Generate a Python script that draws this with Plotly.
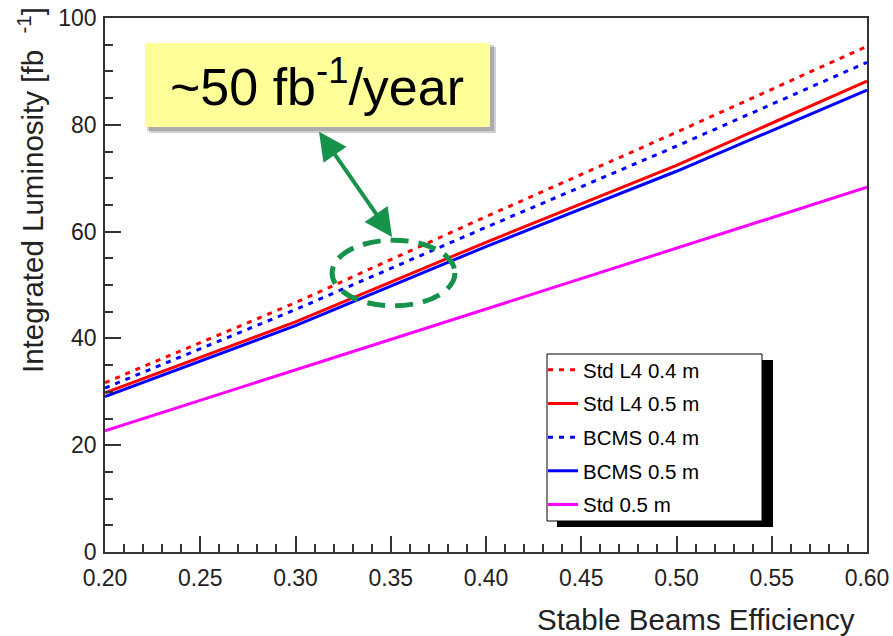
import plotly.graph_objects as go

# ---- data ----
efficiency = [0.20, 0.30, 0.40, 0.50, 0.60]
std_l4_04 = [31.7, 46.7, 62.8, 78.6, 94.7]
std_l4_05 = [29.8, 43.1, 58.0, 72.4, 88.2]
bcms_04 = [30.7, 45.4, 60.8, 76.0, 91.7]
bcms_05 = [29.1, 42.4, 57.2, 71.3, 86.5]
std_05 = [22.7, 34.1, 45.5, 56.9, 68.3]

series_names = ["Std L4 0.4 m", "Std L4 0.5 m", "BCMS 0.4 m", "BCMS 0.5 m", "Std 0.5 m"]
series_values = [std_l4_04, std_l4_05, bcms_04, bcms_05, std_05]
series_colors = ["#FF0000", "#FF0000", "#0000FF", "#0000FF", "#FF00FF"]
series_dash = ["5px,6px", "solid", "5px,6px", "solid", "solid"]

x_ticks = [0.20, 0.25, 0.30, 0.35, 0.40, 0.45, 0.50, 0.55, 0.60]
y_ticks = [0, 20, 40, 60, 80, 100]

# ---- layout geometry (page pixels) ----
PX0, PX1, PY0, PY1 = 105, 867, 18, 552   # plot area
W, H = 893, 636
L, T = PX0, PY0
R = W - PX1
B = H - PY1
PW, PH = PX1 - PX0, PY1 - PY0


def xp(px):
    return (px - PX0) / PW


def yp(py):
    return (PY1 - py) / PH


FONT = "Liberation Sans, Arial, sans-serif"

fig = go.Figure()
for i, (name, vals, col, dash) in enumerate(zip(series_names, series_values, series_colors, series_dash)):
    fig.add_trace(go.Scatter(
        x=efficiency, y=vals, mode="lines", name=name,
        line=dict(color=col, width=3, dash=dash),
        legendgroup=f"g{i}",
    ))

axis_common = dict(
    showgrid=False, zeroline=False, showline=True, linecolor="#333333", linewidth=1.5,
    mirror=True, ticks="inside", tickcolor="#333333", tickwidth=1.5, ticklen=16,
    tickfont=dict(family=FONT, size=23, color="#222222"), automargin=False,
    ticklabeloverflow="allow",
)

fig.update_xaxes(
    range=[0.2, 0.6], tickvals=x_ticks, ticktext=[f"{v:.2f}" for v in x_ticks],
    minor=dict(dtick=0.01, ticks="inside", ticklen=8, tickcolor="#333333", tickwidth=1.5),
    ticklabelstandoff=5,
    **axis_common,
)
fig.update_yaxes(
    range=[0, 100], tickvals=y_ticks,
    minor=dict(dtick=5, ticks="inside", ticklen=8, tickcolor="#333333", tickwidth=1.5),
    ticklabelstandoff=2,
    **axis_common,
)

shapes = [
    # legend shadow and box
    dict(type="rect", xref="paper", yref="paper", x0=xp(557), x1=xp(773), y0=yp(527), y1=yp(360),
         fillcolor="black", line=dict(width=0), layer="below"),
    dict(type="rect", xref="paper", yref="paper", x0=xp(547), x1=xp(762), y0=yp(521), y1=yp(354),
         fillcolor="white", line=dict(color="black", width=1), layer="below"),
    # yellow call-out shadow and box
    dict(type="rect", xref="paper", yref="paper", x0=xp(149), x1=xp(496), y0=yp(133), y1=yp(47),
         fillcolor="rgba(0,0,0,0.18)", line=dict(width=0), layer="above"),
    dict(type="rect", xref="paper", yref="paper", x0=xp(147), x1=xp(494), y0=yp(131), y1=yp(45),
         fillcolor="rgba(0,0,0,0.18)", line=dict(width=0), layer="above"),
    dict(type="rect", xref="paper", yref="paper", x0=xp(145), x1=xp(490), y0=yp(127), y1=yp(43),
         fillcolor="#FFFF99", line=dict(width=0), layer="above"),
    # dashed green ellipse
    dict(type="circle", xref="x", yref="y", x0=0.3192, x1=0.3837, y0=46.1, y1=58.4,
         line=dict(color="#17924A", width=5, dash="18px,10px"), layer="above"),
]

annotations = [
    dict(text="~50 fb<sup>-1</sup>/year", xref="paper", yref="paper",
         x=xp(317), y=yp(83), xanchor="center", yanchor="middle", showarrow=False,
         font=dict(family=FONT, size=52, color="black")),
    dict(x=0.3507, y=59.0, ax=0.3118, ay=79.0, xref="x", yref="y", axref="x", ayref="y",
         text="", showarrow=True, arrowhead=2, arrowside="end+start", arrowsize=1.4,
         arrowwidth=4, arrowcolor="#17924A"),
    dict(text="Integrated Luminosity [fb&nbsp;&nbsp;<sup>-1</sup>]", xref="paper", yref="paper",
         x=xp(30), y=yp(190), xanchor="center", yanchor="middle", textangle=-90,
         showarrow=False, font=dict(family=FONT, size=29.5, color="#222222")),
    dict(text="Stable Beams Efficiency", xref="paper", yref="paper",
         x=xp(696), y=yp(619), xanchor="center", yanchor="middle",
         showarrow=False, font=dict(family=FONT, size=29.5, color="#222222")),
]

fig.update_layout(
    width=W, height=H,
    margin=dict(l=L, r=R, t=T, b=B, autoexpand=False),
    paper_bgcolor="white", plot_bgcolor="white",
    showlegend=True,
    legend=dict(
        x=xp(543), y=yp(350), xanchor="left", yanchor="top",
        bgcolor="rgba(0,0,0,0)", borderwidth=0,
        font=dict(family=FONT, size=20.5, color="black"),
        traceorder="grouped", tracegroupgap=4,
    ),
    shapes=shapes, annotations=annotations,
)

fig.write_html(
    "out.html",
    config={"displayModeBar": False},
    post_script="document.body.style.margin='0';document.body.style.overflow='hidden';",
)
